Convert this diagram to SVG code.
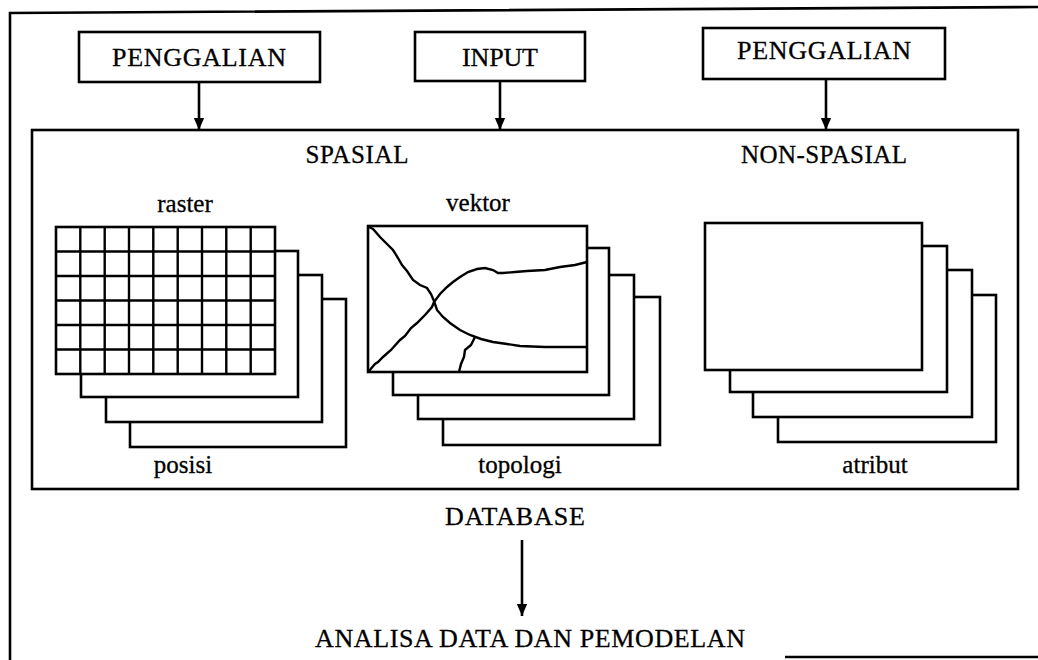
<svg xmlns="http://www.w3.org/2000/svg" width="1038" height="660" viewBox="0 0 1038 660">
<defs>
<marker id="ah" markerWidth="12" markerHeight="14" refX="14" refY="6" orient="auto" markerUnits="userSpaceOnUse" viewBox="0 0 14 12">
<path d="M0,0 L14,6 L0,12 Z" fill="#000"/>
</marker>
<style>
.b{fill:#fff;stroke:#000;stroke-width:2.6}
.l{fill:none;stroke:#000;stroke-width:2.6}
.g{fill:none;stroke:#000;stroke-width:2.4}
.c{fill:none;stroke:#000;stroke-width:2.4}
.t{font-family:"Liberation Serif","Times New Roman",serif;font-size:26px;fill:#000;stroke:#000;stroke-width:0.3;text-anchor:middle}
.s{font-family:"Liberation Serif","Times New Roman",serif;font-size:25px;fill:#000;stroke:#000;stroke-width:0.3;text-anchor:middle}
.w{font-family:"Liberation Serif","Times New Roman",serif;font-size:25px;fill:#000;stroke:#000;stroke-width:0.3;text-anchor:middle}
</style>
</defs>
<rect width="1038" height="660" fill="#fff"/>
<g id="frame">
<path class="l" d="M10,660 L10,13 L1038,7"/>
<path class="l" d="M785,657 L1038,657"/>
</g>
<g id="database">
<rect class="b" x="32" y="130" width="986" height="359"/>
<text class="s" x="357" y="163" textLength="103">SPASIAL</text>
<text class="s" x="824" y="163" textLength="166">NON-SPASIAL</text>
</g>
<g id="penggalian-1">
<rect class="b" x="79" y="32" width="241" height="50"/>
<text class="t" x="199" y="66" textLength="174">PENGGALIAN</text>
</g>
<g id="input">
<rect class="b" x="415" y="32" width="170" height="49"/>
<text class="t" x="500" y="66" textLength="76">INPUT</text>
</g>
<g id="penggalian-2">
<rect class="b" x="703" y="28" width="242" height="51"/>
<text class="t" x="824" y="59" textLength="174">PENGGALIAN</text>
</g>
<g id="raster">
<text class="w" x="185" y="212">raster</text>
<rect class="b" x="130" y="299" width="216" height="148"/>
<rect class="b" x="106" y="275" width="216" height="147"/>
<rect class="b" x="81" y="251" width="217" height="146"/>
<rect class="b" x="56" y="227" width="219" height="147"/>
<path class="g" d="M80.3,227V374M104.7,227V374M129,227V374M153.3,227V374M177.7,227V374M202,227V374M226.3,227V374M250.7,227V374M56,251.5H275M56,276H275M56,300.5H275M56,325H275M56,349.5H275"/>
<text class="w" x="183" y="473">posisi</text>
</g>
<g id="vektor">
<text class="w" x="478" y="211">vektor</text>
<rect class="b" x="443" y="297" width="217" height="148"/>
<rect class="b" x="418" y="275" width="216" height="144"/>
<rect class="b" x="393" y="248" width="216" height="147"/>
<rect class="b" x="368" y="226" width="219" height="146"/>
<path class="c" d="M369,227 L373,229 L380,237 L386,243 L393,250 L398,258 L402,265 L407,271 L413,280 L420,285 L427,288 L431,294 L434,301 L437,310 L443,317 L450,323 L460,330 L470,335 L481,339 L493,342 L507,344 L520,346 L545,347 L587,347"/>
<path class="c" d="M369,371 L375,364 L378,362 L383,357 L391,350 L400,340 L405,336 L411,328 L417,323 L425,315 L432,307 L434,302 L440,294 L447,287 L453,282 L460,277 L468,272 L477,269 L485,268 L493,270 L498,273 L503,273 L515,272 L527,271 L545,270 L560,267 L575,265 L587,262"/>
<path class="c" d="M475,337 L471,345 L465,350 L464,357 L461,364 L459,372"/>
<text class="w" x="520" y="473">topologi</text>
</g>
<g id="atribut">
<rect class="b" x="778" y="295" width="218" height="147"/>
<rect class="b" x="753" y="270" width="219" height="147"/>
<rect class="b" x="730" y="246" width="217" height="146"/>
<rect class="b" x="705" y="223" width="217" height="147"/>
<text class="w" x="875" y="473">atribut</text>
</g>
<g id="analisa">
<text class="t" x="515" y="525" textLength="140">DATABASE</text>
<text class="t" x="530" y="647" textLength="430">ANALISA DATA DAN PEMODELAN</text>
</g>
<g id="connectors">
<line class="l" x1="199" y1="82" x2="199" y2="130" marker-end="url(#ah)"/>
<line class="l" x1="500" y1="81" x2="500" y2="130" marker-end="url(#ah)"/>
<line class="l" x1="826" y1="79" x2="826" y2="130" marker-end="url(#ah)"/>
<line class="l" x1="522" y1="540" x2="522" y2="616" marker-end="url(#ah)"/>
</g>
</svg>
